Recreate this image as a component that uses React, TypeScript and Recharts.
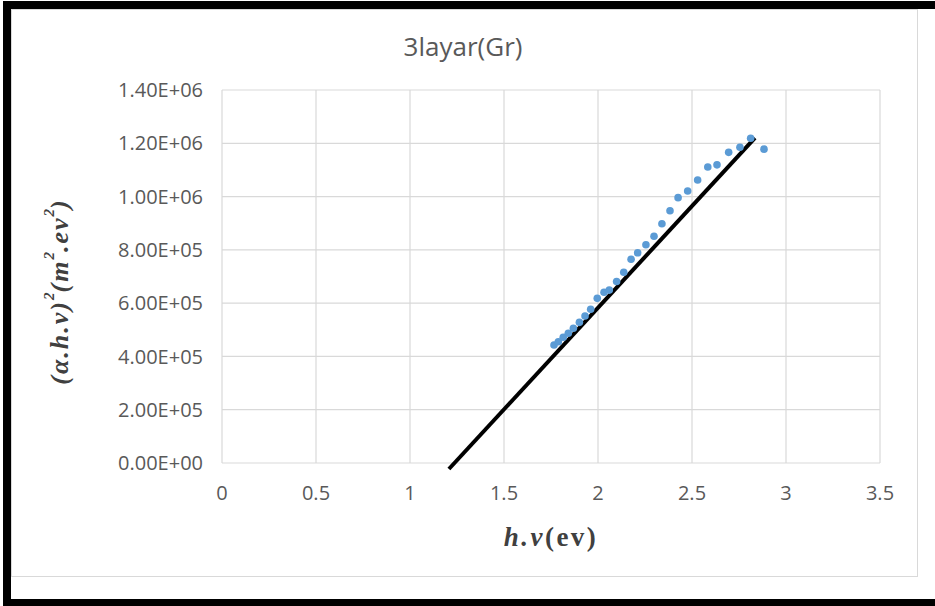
import { ScatterChart, Scatter, XAxis, YAxis, CartesianGrid, ReferenceLine } from 'recharts'

// photon energy h.v (eV)
const hv = [
  1.766, 1.789, 1.815, 1.842, 1.869, 1.901, 1.931, 1.961, 1.996, 2.032,
  2.06, 2.099, 2.137, 2.176, 2.211, 2.255, 2.298, 2.34, 2.383, 2.426,
  2.477, 2.53, 2.584, 2.633, 2.695, 2.755, 2.812, 2.883,
]
// (alpha.h.v)^2
const alphaHvSq = [
  443000, 455000, 472000, 487000, 506000, 528000, 552000, 577000, 618000, 641000,
  649000, 681000, 716000, 765000, 789000, 819000, 851000, 898000, 947000, 996000,
  1021000, 1062000, 1111000, 1119000, 1166000, 1185000, 1219000, 1178000,
]

// linear fit (Tauc extrapolation)
const fitX = [1.207, 2.835]
const fitY = [-22500, 1220000]

const xTicks = [0, 0.5, 1, 1.5, 2, 2.5, 3, 3.5]
const yTicks = [0, 200000, 400000, 600000, 800000, 1000000, 1200000, 1400000]
const yTickLabels = ['0.00E+00', '2.00E+05', '4.00E+05', '6.00E+05', '8.00E+05', '1.00E+06', '1.20E+06', '1.40E+06']

const points = hv.map((x, i) => ({ x, y: alphaHvSq[i] }))

const tickStyle = { fontFamily: 'Open Sans', fontSize: 20, fill: '#595959' }
const labelFont = "'Liberation Serif', serif"

function XLabel(props: any) {
  const { x, y, width } = props.viewBox
  return (
    <text x={x + width / 2} y={y + 83} textAnchor="middle" fontFamily={labelFont} fontWeight="bold"
      fontSize={27} fill="#404040" letterSpacing={2.5}>
      <tspan fontStyle="italic">h.v</tspan>
      <tspan>(ev)</tspan>
    </text>
  )
}

function YLabel(props: any) {
  const { x, y, height } = props.viewBox
  const cx = x - 103
  const cy = y + height / 2 + 15
  return (
    <text x={cx} y={cy} transform={`rotate(-90, ${cx}, ${cy})`} textAnchor="middle" dominantBaseline="central"
      fontFamily={labelFont} fontWeight="bold" fontStyle="italic" fontSize={26} fill="#404040" letterSpacing={2}>
      <tspan>(α.h.v)</tspan>
      <tspan fontSize={15} dy={-10} letterSpacing={0}>2</tspan>
      <tspan dy={10}>(m</tspan>
      <tspan fontSize={15} dy={-10} letterSpacing={0}>2</tspan>
      <tspan dy={10}>.ev</tspan>
      <tspan fontSize={15} dy={-10} letterSpacing={0}>2</tspan>
      <tspan dy={10}>)</tspan>
    </text>
  )
}

export default function App() {
  return (
    <div style={{ position: 'absolute', left: 0, top: 0, width: 935, height: 606, background: '#fff', overflow: 'hidden' }}>
      <div style={{
        position: 'absolute', left: 3, top: 1, width: 932, height: 605, boxSizing: 'border-box',
        borderLeft: '8px solid #000', borderTop: '8px solid #000', borderBottom: '7px solid #000',
      }} />
      <div style={{
        position: 'absolute', left: 11, top: 9, width: 907, height: 568, boxSizing: 'border-box',
        border: '1px solid #d9d9d9',
      }} />
      <div style={{
        position: 'absolute', left: 0, top: 28, width: 926, textAlign: 'center',
        fontFamily: 'Open Sans', fontSize: 26, color: '#595959', lineHeight: '36px',
      }}>
        3layar(Gr)
      </div>
      <div style={{ position: 'absolute', left: 0, top: 0 }}>
        <ScatterChart width={935} height={606} margin={{ top: 90, right: 55, left: 162, bottom: 113 }}>
          <CartesianGrid stroke="#d9d9d9" strokeWidth={1.2} />
          <XAxis type="number" dataKey="x" domain={[0, 3.5]} ticks={xTicks} interval={0}
            axisLine={false} tickLine={false} tickSize={0} tickMargin={23} tick={tickStyle}
            height={30} label={<XLabel />} />
          <YAxis type="number" dataKey="y" domain={[0, 1400000]} ticks={yTicks} interval={0}
            axisLine={false} tickLine={false} tickSize={0} tickMargin={19} tick={tickStyle}
            tickFormatter={(v: number, i: number) => yTickLabels[i]} width={60} label={<YLabel />} />
          <Scatter data={points} isAnimationActive={false}
            shape={(p: any) => <circle cx={p.cx} cy={p.cy} r={3.8} fill="#5B9BD5" />} />
          <ReferenceLine segment={[{ x: fitX[0], y: fitY[0] }, { x: fitX[1], y: fitY[1] }]}
            stroke="#000" strokeWidth={4} ifOverflow="visible" />
        </ScatterChart>
      </div>
    </div>
  )
}
